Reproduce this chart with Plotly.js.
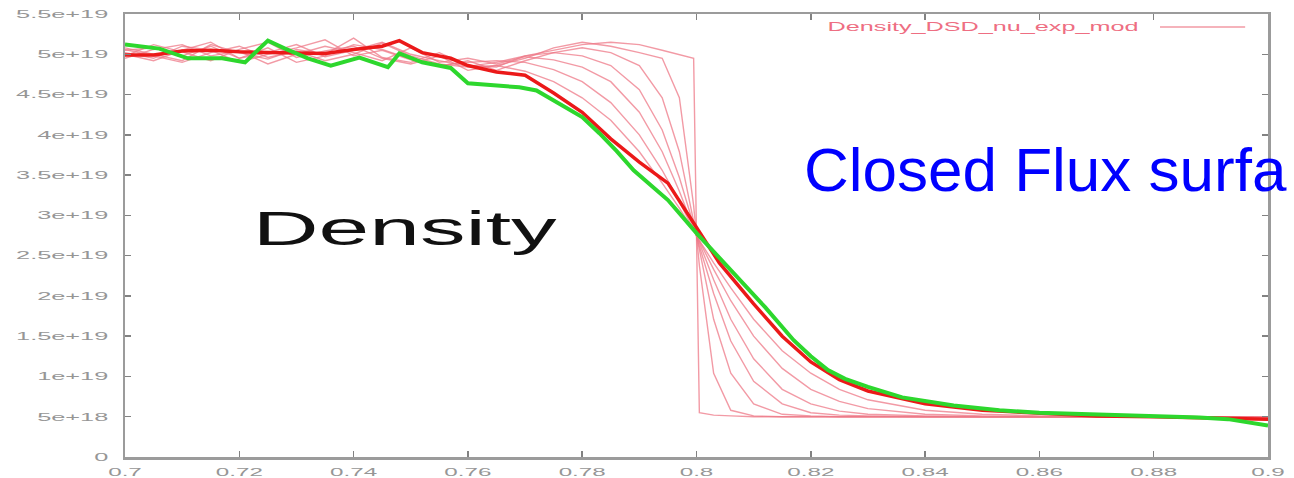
<!DOCTYPE html>
<html>
<head>
<meta charset="utf-8">
<script src="https://cdn.plot.ly/plotly-3.0.1.min.js"></script>
<style>
  html, body { margin: 0; padding: 0; background: #ffffff; }
  #chart { width: 1294px; height: 478px; }
</style>
</head>
<body>
<div id="chart"></div>
<script>
// ---- data (density in units of 1e19 m^-3) ----
const xTickVals = [0.7, 0.72, 0.74, 0.76, 0.78, 0.8, 0.82, 0.84, 0.86, 0.88, 0.9];
const xTickText = ["0.7", "0.72", "0.74", "0.76", "0.78", "0.8", "0.82", "0.84", "0.86", "0.88", "0.9"];
const yTickVals = [0, 0.5, 1, 1.5, 2, 2.5, 3, 3.5, 4, 4.5, 5, 5.5];
const yTickText = ["0", "5e+18", "1e+19", "1.5e+19", "2e+19", "2.5e+19", "3e+19", "3.5e+19", "4e+19", "4.5e+19", "5e+19", "5.5e+19"];

const seriesName = "Density_DSD_nu_exp_mod";

// shared radius grid of the intermediate (pink) profiles
const xPink = [0.700, 0.705, 0.710, 0.715, 0.720, 0.725, 0.730, 0.735, 0.740, 0.745, 0.750, 0.755, 0.760, 0.765,
  0.770, 0.775, 0.780, 0.785, 0.790, 0.794, 0.797, 0.7995, 0.8005, 0.803, 0.806, 0.810, 0.815, 0.820, 0.825, 0.830,
  0.840, 0.850, 0.860, 0.870, 0.880, 0.890, 0.900];

const pink1 = [5.05, 5.08, 4.98, 5.10, 4.95, 5.02, 5.12, 4.97, 5.05, 5.15, 5.00, 4.92, 4.85, 4.90,
  4.98, 5.05, 5.12, 5.15, 5.12, 5.05, 5.00, 4.95, 0.55, 0.52, 0.51, 0.50, 0.50, 0.50, 0.50, 0.50, 0.50, 0.50, 0.50, 0.50, 0.50, 0.50, 0.49];
const pink2 = [4.98, 5.12, 5.03, 4.92, 5.06, 5.15, 4.96, 5.04, 5.10, 4.95, 4.88, 4.98, 4.80, 4.86,
  4.95, 5.08, 5.15, 5.10, 5.02, 4.95, 4.46, 3.12, 2.38, 1.04, 0.58, 0.51, 0.50, 0.50, 0.50, 0.50, 0.50, 0.50, 0.50, 0.50, 0.50, 0.50, 0.49];
const pink3 = [5.02, 4.95, 5.10, 5.05, 4.90, 5.00, 5.08, 5.18, 4.98, 5.05, 4.93, 4.85, 4.92, 4.80,
  4.92, 5.02, 5.08, 5.02, 4.86, 4.46, 3.79, 2.94, 2.56, 1.71, 1.04, 0.66, 0.53, 0.51, 0.50, 0.50, 0.50, 0.50, 0.50, 0.50, 0.50, 0.50, 0.49];
const pink4 = [5.08, 5.00, 4.92, 5.12, 5.02, 4.94, 5.06, 5.00, 5.20, 4.96, 4.90, 5.02, 4.86, 4.84,
  4.98, 5.02, 4.98, 4.86, 4.56, 4.06, 3.47, 2.88, 2.62, 2.03, 1.44, 0.94, 0.66, 0.55, 0.52, 0.51, 0.50, 0.50, 0.50, 0.50, 0.50, 0.50, 0.49];
const pink5 = [4.95, 5.06, 5.12, 4.98, 5.04, 4.88, 5.00, 5.10, 5.02, 4.92, 5.08, 4.90, 4.95, 4.88,
  4.97, 4.93, 4.84, 4.66, 4.28, 3.79, 3.30, 2.84, 2.66, 2.20, 1.71, 1.22, 0.84, 0.66, 0.57, 0.53, 0.51, 0.50, 0.50, 0.50, 0.50, 0.50, 0.49];
const pink6 = [5.00, 4.92, 5.05, 5.15, 4.95, 5.08, 4.90, 4.98, 5.12, 5.06, 4.94, 4.86, 4.90, 4.92,
  4.90, 4.81, 4.66, 4.40, 4.00, 3.56, 3.17, 2.82, 2.68, 2.33, 1.94, 1.50, 1.10, 0.84, 0.69, 0.60, 0.53, 0.51, 0.50, 0.50, 0.50, 0.50, 0.49];
const pink7 = [5.06, 4.98, 4.90, 5.02, 5.10, 4.96, 5.04, 4.92, 5.00, 5.14, 4.98, 4.88, 4.84, 4.86,
  4.79, 4.66, 4.46, 4.18, 3.79, 3.40, 3.09, 2.81, 2.69, 2.41, 2.10, 1.71, 1.32, 1.04, 0.84, 0.71, 0.58, 0.53, 0.51, 0.50, 0.50, 0.50, 0.49];

// bold red profile
const xRed = [0.700, 0.705, 0.710, 0.715, 0.720, 0.725, 0.730, 0.735, 0.740, 0.745, 0.748, 0.752, 0.757, 0.760, 0.765,
  0.770, 0.775, 0.780, 0.785, 0.790, 0.795, 0.800, 0.804, 0.810, 0.815, 0.820, 0.825, 0.830, 0.840, 0.850,
  0.860, 0.870, 0.880, 0.890, 0.900];
const yRed = [4.99, 4.99, 5.04, 5.05, 5.03, 5.02, 5.01, 5.01, 5.06, 5.10, 5.17, 5.02, 4.95, 4.86, 4.78,
  4.74, 4.52, 4.28, 3.95, 3.66, 3.40, 2.85, 2.41, 1.90, 1.50, 1.18, 0.96, 0.82, 0.66, 0.58,
  0.54, 0.51, 0.50, 0.49, 0.47];

// green profile
const xGreen = [0.700, 0.703, 0.706, 0.711, 0.717, 0.721, 0.725, 0.728, 0.732, 0.736, 0.741, 0.746, 0.748, 0.752,
  0.757, 0.760, 0.765, 0.769, 0.772, 0.774, 0.777, 0.780, 0.783, 0.786, 0.789, 0.792, 0.795, 0.800, 0.803, 0.806,
  0.809, 0.812, 0.817, 0.820, 0.823, 0.826, 0.830, 0.836, 0.845, 0.853, 0.860, 0.870, 0.880, 0.888, 0.893, 0.897, 0.900];
const yGreen = [5.12, 5.10, 5.07, 4.95, 4.95, 4.90, 5.17, 5.07, 4.95, 4.86, 4.96, 4.84, 5.01, 4.90,
  4.83, 4.64, 4.61, 4.59, 4.55, 4.47, 4.35, 4.22, 4.02, 3.80, 3.56, 3.38, 3.19, 2.78, 2.55, 2.32,
  2.09, 1.86, 1.45, 1.25, 1.08, 0.97, 0.87, 0.74, 0.64, 0.58, 0.55, 0.53, 0.51, 0.49, 0.47, 0.42, 0.39];

const pinkSeries = [pink1, pink2, pink3, pink4, pink5, pink6, pink7];

// ---- traces ----
const pinkColor = "rgba(238,120,135,0.75)";
const traces = pinkSeries.map((ys) => ({
  type: "scatter", mode: "lines", x: xPink, y: ys,
  name: seriesName, showlegend: false,
  line: { color: pinkColor, width: 1.4 }
}));
traces.push({
  type: "scatter", mode: "lines", x: xRed, y: yRed, showlegend: false,
  line: { color: "rgb(235,25,25)", width: 3.5 }
});
traces.push({
  type: "scatter", mode: "lines", x: xGreen, y: yGreen, showlegend: false,
  line: { color: "rgb(45,215,45)", width: 4 }
});

const axisCommon = {
  showgrid: false, zeroline: false,
  showline: true, linecolor: "rgb(155,155,155)", linewidth: 2.5,
  mirror: "ticks", ticks: "inside", ticklen: 6, tickwidth: 1.5, tickcolor: "rgb(130,130,130)",
  tickfont: { family: "Liberation Sans, Arial, sans-serif", size: 11, color: "rgb(150,150,150)" }
};

const layout = {
  width: 1294, height: 478,
  margin: { l: 125, r: 26, t: 14, b: 21, pad: 0 },
  paper_bgcolor: "#ffffff", plot_bgcolor: "#ffffff",
  showlegend: false,
  xaxis: Object.assign({}, axisCommon, {
    range: [0.7, 0.9], tickmode: "array", tickvals: xTickVals, ticktext: xTickText,
    ticklabelstandoff: 3
  }),
  yaxis: Object.assign({}, axisCommon, {
    range: [0, 5.5], tickmode: "array", tickvals: yTickVals, ticktext: yTickText,
    ticklabelstandoff: 12
  }),
  annotations: [
    {
      text: "Density", xref: "x", yref: "y", x: 0.749, y: 2.84,
      xanchor: "center", yanchor: "middle", showarrow: false,
      font: { family: "Liberation Sans, Arial, sans-serif", size: 49, color: "#111111" }
    },
    {
      text: seriesName, xref: "paper", yref: "paper", x: 0.751, y: 0.9707,
      xanchor: "center", yanchor: "middle", showarrow: false,
      font: { family: "Liberation Sans, Arial, sans-serif", size: 12, color: "rgb(238,110,130)" }
    },
    {
      text: "Closed Flux surfa", xref: "paper", yref: "paper", x: 0.592, y: 0.648,
      xanchor: "left", yanchor: "middle", showarrow: false,
      font: { family: "Liberation Sans, Arial, sans-serif", size: 62, color: "#0000ff" }
    }
  ],
  shapes: [
    {
      type: "line", xref: "paper", yref: "paper", x0: 0.9055, x1: 0.98, y0: 0.9707, y1: 0.9707,
      line: { color: pinkColor, width: 1.4 }
    }
  ]
};

function stretchEl(t, factor) {
  if (t.getAttribute("data-stretched")) return;
  const w = t.getComputedTextLength();
  if (!w) return;
  t.setAttribute("textLength", (w * factor).toFixed(1));
  t.setAttribute("lengthAdjust", "spacingAndGlyphs");
  t.setAttribute("data-stretched", "1");
}

function applyStretch() {
  document.querySelectorAll("#chart .xtick text").forEach(t => stretchEl(t, 2.2));
  document.querySelectorAll("#chart .ytick text").forEach(t => stretchEl(t, 2.3));
  document.querySelectorAll("#chart .annotation-text").forEach(t => {
    const s = t.textContent;
    if (s === "Density") stretchEl(t, 1.86);
    else if (s === seriesName) stretchEl(t, 2.1);
  });
}

Plotly.newPlot("chart", traces, layout, { staticPlot: true, displayModeBar: false }).then(() => {
  applyStretch();
});
</script>
</body>
</html>
